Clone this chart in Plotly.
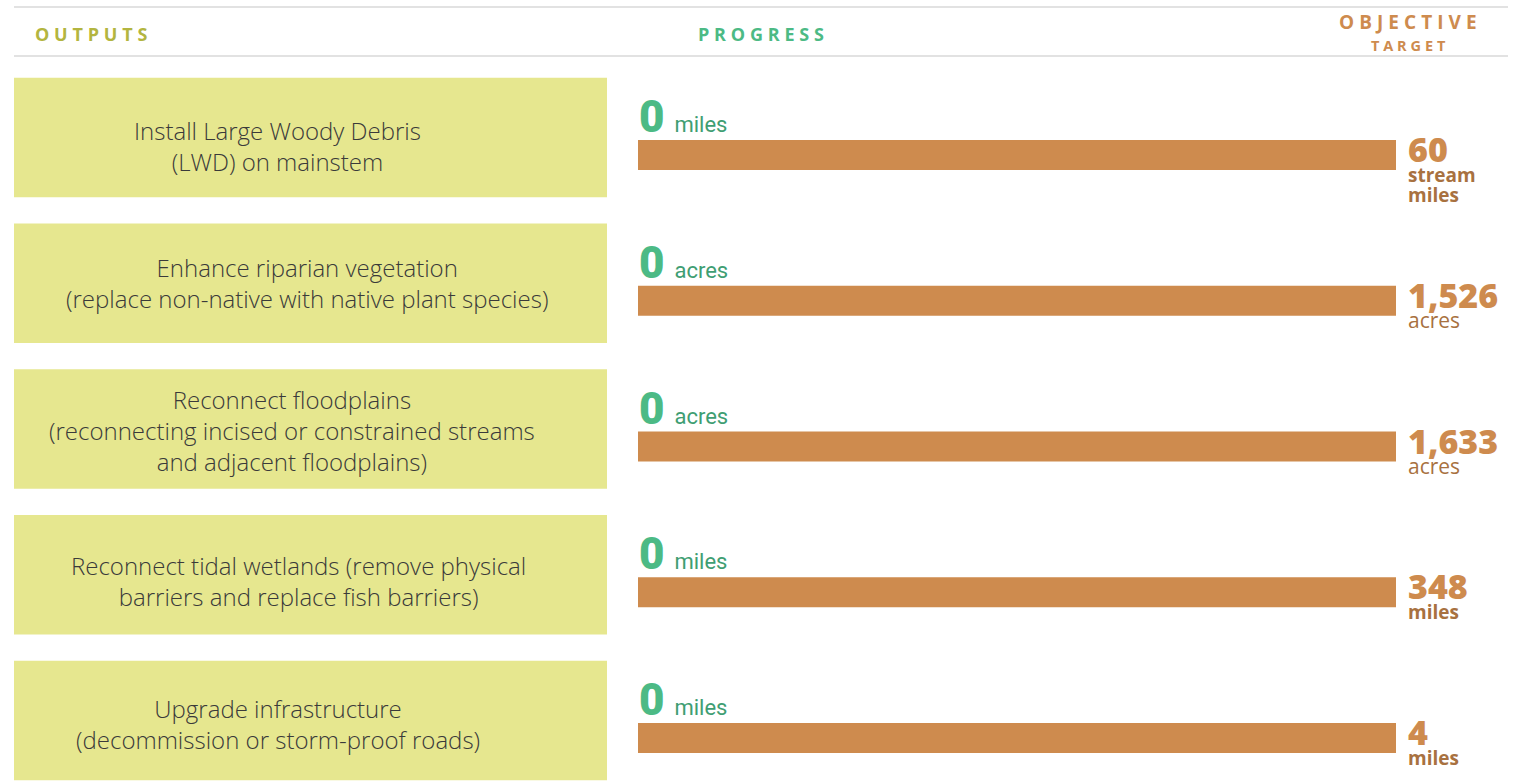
import plotly.graph_objects as go
import numpy as np

outputs = [
    "Install Large Woody Debris<br>(LWD) on mainstem",
    "Enhance riparian vegetation<br>(replace non-native with native plant species)",
    "Reconnect floodplains<br>(reconnecting incised or constrained streams<br>and adjacent floodplains)",
    "Reconnect tidal wetlands (remove physical<br>barriers and replace fish barriers)",
    "Upgrade infrastructure<br>(decommission or storm-proof roads)",
]
progress = [0, 0, 0, 0, 0]
progress_units = ["miles", "acres", "acres", "miles", "miles"]
targets = [60, 1526, 1633, 348, 4]
target_units = [["stream", "miles"], ["acres"], ["acres"], ["miles"], ["miles"]]
target_units_bold = [True, False, False, True, True]

W, H = 1519, 783
GREEN = "#4cba85"
GREEN_DARK = "#3f9e73"
ORANGE = "#ce8b4e"
ORANGE_DARK = "#a87140"
OLIVE = "#b3b540"
BOX = "#e6e78f"
LINE = "#d9d9d9"

# label nudges (layout only, pixels): horizontal (right positive), vertical (down positive)
LABEL_DX = (-33, -4, -19, -12, -33)
LABEL_DY = (8, 0, 1, 6, 3)


def px(x):
    return x / W


def py(y):
    return 1 - y / H


idx = np.arange(len(outputs))
pct_target = [t / t * 100 for t in targets]
pct_progress = [p / t * 100 for p, t in zip(progress, targets)]

row_px = 145.75
first_center = 137.5
yrange = [(H - first_center) / row_px, -first_center / row_px]
bar_w = 30 / row_px
bar_off = 17.5 / row_px - bar_w / 2
bar_c = bar_off + bar_w / 2

fig = go.Figure()
fig.add_trace(go.Bar(y=idx, x=pct_target, orientation="h", width=bar_w, offset=bar_off,
                     marker=dict(color=ORANGE, line=dict(width=0)), hoverinfo="skip"))
fig.add_trace(go.Bar(y=idx, x=pct_progress, orientation="h", width=bar_w, offset=bar_off,
                     marker=dict(color=GREEN, line=dict(width=0)), hoverinfo="skip"))

shapes = []
for yp in [7, 56]:
    shapes.append(dict(type="line", xref="paper", yref="paper", x0=px(14), x1=px(1508),
                       y0=py(yp), y1=py(yp), line=dict(color=LINE, width=1.5)))
for i in idx:
    shapes.append(dict(type="rect", xref="paper", yref="y", x0=px(14), x1=px(607),
                       y0=i - 0.41, y1=i + 0.41, fillcolor=BOX, line=dict(width=0), layer="below"))

ann = []
GAP = "\u2009\u200a"


def sp(s):
    return GAP.join(list(s))


def header(x, y, text, size, color, anchor):
    ann.append(dict(xref="paper", yref="paper", x=px(x), y=py(y), xanchor=anchor, yanchor="middle",
                    text="<b>" + sp(text) + "</b>", showarrow=False,
                    font=dict(family="Open Sans", size=size, color=color)))


header(33, 34, "OUTPUTS", 18, OLIVE, "left")
header(761, 34, "PROGRESS", 18, GREEN, "center")
header(1408, 22, "OBJECTIVE", 19, ORANGE, "center")
header(1408, 45, "TARGET", 14.5, ORANGE, "center")

for i in idx:
    ann.append(dict(xref="paper", yref="y", x=px(310.5), y=i, xanchor="center", yanchor="middle",
                    xshift=LABEL_DX[i], yshift=-LABEL_DY[i],
                    text=outputs[i], showarrow=False, align="center",
                    font=dict(family="Open Sans", size=24, color="#3a3a3a", weight=300)))
    ann.append(dict(xref="x", yref="y", x=pct_progress[i], y=i + bar_off, xanchor="left", yanchor="bottom",
                    xshift=-1, yshift=-5,
                    text=f"<span style='font-size:44px;font-weight:900;color:{GREEN}'>{progress[i]}</span>\u2009 {progress_units[i]}",
                    showarrow=False, font=dict(family="Roboto", size=22, color=GREEN_DARK)))
    units = ""
    for u in target_units[i]:
        if target_units_bold[i]:
            units += f"<br><span style='font-size:19px;font-weight:bold'>{u}</span>"
        else:
            units += f"<br><span style='font-size:21px;font-weight:normal'>{u}</span>"
    ann.append(dict(xref="x", yref="y", x=pct_target[i], y=i + bar_c, xanchor="left", yanchor="top",
                    xshift=10, yshift=31, align="left",
                    text=f"<span style='font-size:34px;font-weight:900;color:{ORANGE}'>{targets[i]:,}</span>" + units,
                    showarrow=False, font=dict(family="Open Sans", size=15.4, color=ORANGE_DARK)))

fig.update_layout(
    width=W, height=H, margin=dict(l=0, r=0, t=0, b=0),
    paper_bgcolor="white", plot_bgcolor="white", showlegend=False, barmode="overlay",
    xaxis=dict(domain=[px(638), px(1396)], range=[0, 100], visible=False, fixedrange=True),
    yaxis=dict(domain=[0, 1], range=yrange, visible=False, fixedrange=True),
    shapes=shapes, annotations=ann,
)
fig.write_html("out.html", config={"displayModeBar": False},
               post_script="document.body.style.margin='0px';")
